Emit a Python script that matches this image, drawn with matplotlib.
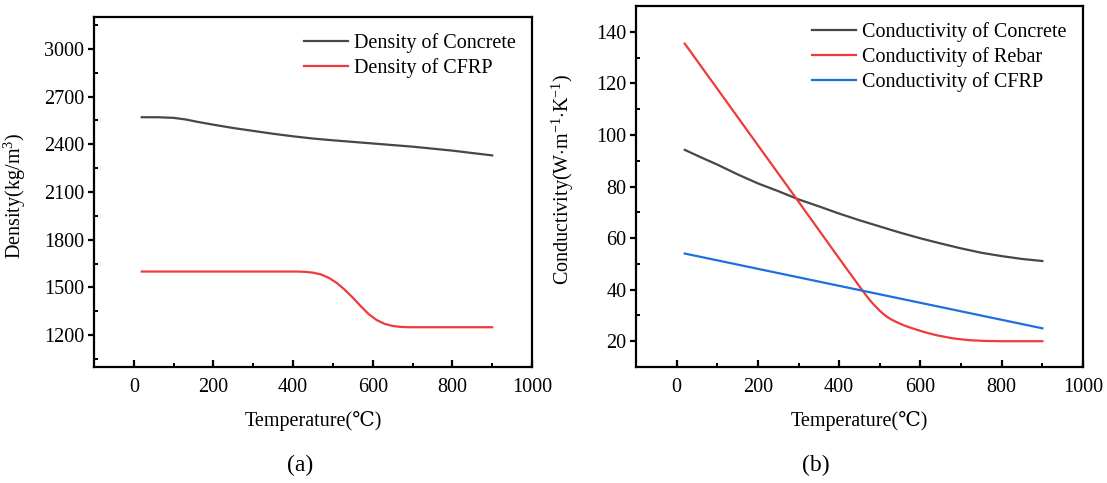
import matplotlib
matplotlib.use("Agg")
import matplotlib.pyplot as plt
from matplotlib.ticker import MultipleLocator

plt.rcParams['font.family'] = ['Liberation Serif', 'DejaVu Serif']
plt.rcParams['mathtext.fontset'] = 'custom'
plt.rcParams['mathtext.rm'] = 'Liberation Serif'
plt.rcParams['mathtext.it'] = 'Liberation Serif:italic'

# ---- data (a) density ----
t_conc_rho = [20, 60, 100, 130, 160, 200, 250, 300, 350, 400, 450, 500, 600, 700, 800, 900]
rho_conc = [2570, 2570, 2566, 2556, 2541, 2523, 2502, 2484, 2466, 2450, 2436, 2425, 2405, 2385, 2360, 2330]
t_cfrp_rho = [20, 200, 410, 430, 450, 470, 490, 510, 530, 550, 570, 590, 610, 630, 650, 670, 690, 800, 900]
rho_cfrp = [1600, 1600, 1600, 1598, 1593, 1582, 1560, 1528, 1485, 1436, 1382, 1332, 1295, 1271, 1258, 1252, 1250, 1250, 1250]

# ---- data (b) conductivity ----
t_k = [20, 60, 100, 150, 200, 250, 300, 350, 400, 450, 500, 550, 600, 650, 700, 750, 800, 850, 900]
k_conc = [94.2, 91.3, 88.5, 84.7, 81.2, 78.2, 75.0, 72.3, 69.5, 66.9, 64.5, 62.1, 59.9, 57.9, 56.0, 54.3, 53.0, 51.9, 51.1]
t_rebar = [20, 100, 200, 300, 400, 440, 460, 470, 480, 490, 500, 510, 520, 530, 540, 560, 580, 600, 620, 640, 680, 720, 760, 800, 900]
k_rebar = [135.4, 117.9, 96.0, 74.1, 52.1, 43.4, 39.1, 37.0, 35.1, 33.4, 31.8, 30.4, 29.2, 28.3, 27.5, 26.1, 25.0, 24.0, 23.1, 22.3, 21.1, 20.4, 20.1, 20.0, 20.0]
t_cfrp_k = [20, 900]
k_cfrp = [54.0, 25.0]

fig = plt.figure(figsize=(11.07, 4.83), dpi=100)
W, H = 1107, 483

def add_axes(l, r, t, b):
    return fig.add_axes([l / W, (H - b) / H, (r - l) / W, (b - t) / H])

ax1 = add_axes(94, 532, 17, 367)
ax2 = add_axes(636, 1083, 6, 367)

gray = '#474747'
red = '#f03a3a'
blue = '#1f6fe0'
lw = 1.6
fs = 14.5

ax1.plot(t_conc_rho, rho_conc, color=gray, lw=lw, label='Density of Concrete')
ax1.plot(t_cfrp_rho, rho_cfrp, color=red, lw=lw, label='Density of CFRP')
ax1.set_xlim(-100, 1000)
ax1.set_ylim(1000, 3200)
ax1.set_yticks([1200, 1500, 1800, 2100, 2400, 2700, 3000])
ax1.yaxis.set_minor_locator(MultipleLocator(150))
ax1.set_ylabel('Density(kg/m$^{3}$)', fontsize=fs)

ax2.plot(t_k, k_conc, color=gray, lw=lw, label='Conductivity of Concrete')
ax2.plot(t_rebar, k_rebar, color=red, lw=lw, label='Conductivity of Rebar')
ax2.plot(t_cfrp_k, k_cfrp, color=blue, lw=lw, label='Conductivity of CFRP')
ax2.set_xlim(-100, 1000)
ax2.set_ylim(10, 150)
ax2.set_yticks([20, 40, 60, 80, 100, 120, 140])
ax2.yaxis.set_minor_locator(MultipleLocator(10))
ax2.set_ylabel('Conductivity(W$\\cdot$m$^{\\mathrm{-1}}$$\\cdot$K$^{\\mathrm{-1}}$)', fontsize=fs)

for ax in (ax1, ax2):
    ax.xaxis.set_major_locator(MultipleLocator(200))
    ax.xaxis.set_minor_locator(MultipleLocator(100))
    for s in ax.spines.values():
        s.set_linewidth(1.6)
    ax.tick_params(axis='x', which='major', direction='in', length=5, width=1.6, labelsize=fs, pad=8)
    ax.tick_params(axis='x', which='minor', direction='in', length=3, width=1.4)
    ax.tick_params(axis='y', which='major', direction='out', length=4, width=1.6, labelsize=fs, pad=3)
    ax.tick_params(axis='y', which='minor', direction='in', length=3, width=1.4)
    ax.set_xlabel('Temperature(℃)', fontsize=fs, labelpad=10)
    ax.legend(loc='upper right', frameon=False, fontsize=fs, handlelength=2.2,
              handletextpad=0.3, labelspacing=0.25, borderaxespad=0.4)

ax1.yaxis.set_label_coords(-0.15, 0.49)
ax2.yaxis.set_label_coords(-0.135, 0.52)

fig.text(300 / W, 1 - 465 / H, '(a)', fontsize=17, ha='center', va='center')
fig.text(816 / W, 1 - 465 / H, '(b)', fontsize=17, ha='center', va='center')

fig.savefig('out.png', dpi=100)
